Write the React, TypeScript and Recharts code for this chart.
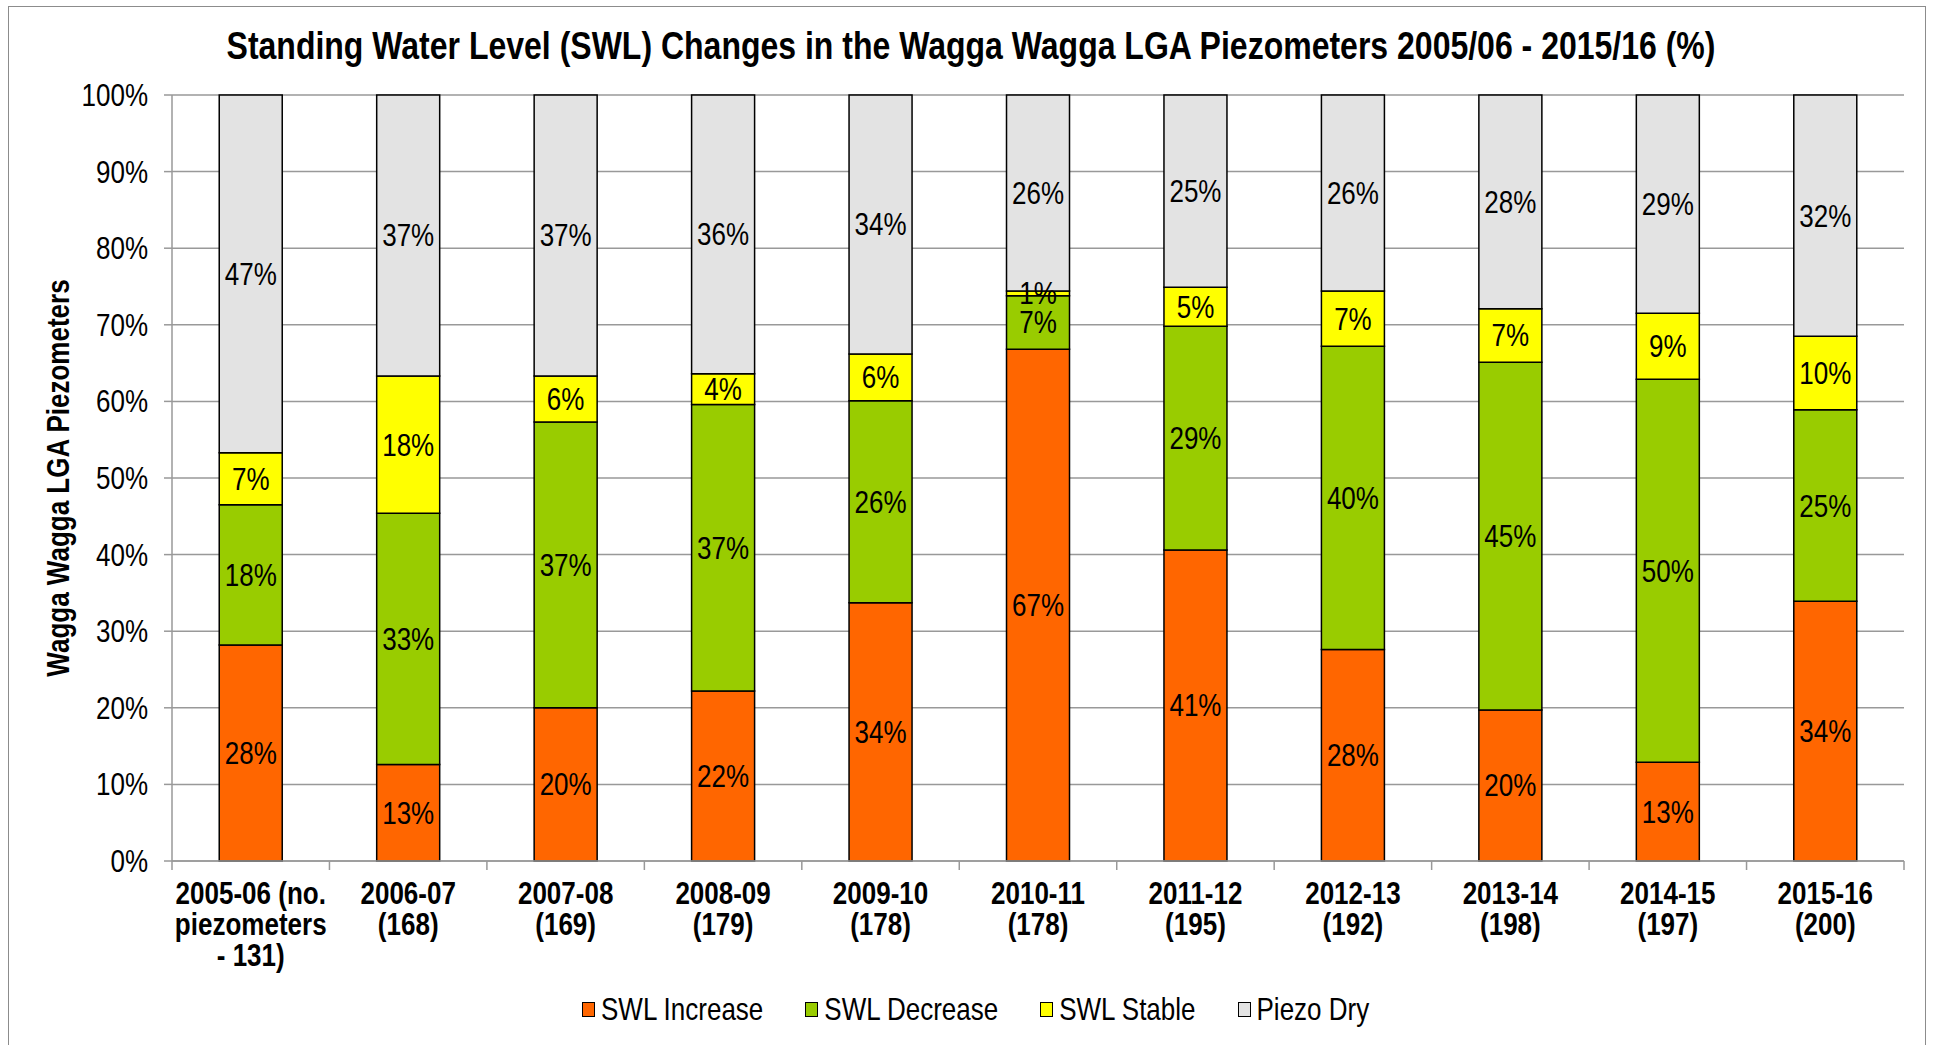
import React from "react";
import {
  BarChart,
  Bar,
  XAxis,
  YAxis,
  CartesianGrid,
  LabelList,
} from "recharts";

const categories = [
  "2005-06 (no.\npiezometers\n- 131)",
  "2006-07\n(168)",
  "2007-08\n(169)",
  "2008-09\n(179)",
  "2009-10\n(178)",
  "2010-11\n(178)",
  "2011-12\n(195)",
  "2012-13\n(192)",
  "2013-14\n(198)",
  "2014-15\n(197)",
  "2015-16\n(200)",
];

const swlIncrease = [28.2, 12.6, 20.0, 22.2, 33.7, 66.8, 40.6, 27.6, 19.7, 12.9, 33.9];
const swlDecrease = [18.3, 32.8, 37.3, 37.4, 26.4, 7.0, 29.2, 39.6, 45.4, 50.0, 25.0];
const swlStable = [6.8, 17.9, 6.0, 4.0, 6.1, 0.6, 5.1, 7.2, 7.0, 8.6, 9.6];
const piezoDry = [46.7, 36.7, 36.7, 36.4, 33.8, 25.6, 25.1, 25.6, 27.9, 28.5, 31.5];

const yTicks = [0, 10, 20, 30, 40, 50, 60, 70, 80, 90, 100];

const series = [
  { key: "increase", name: "SWL Increase", color: "#FF6600" },
  { key: "decrease", name: "SWL Decrease", color: "#99CC00" },
  { key: "stable", name: "SWL Stable", color: "#FFFF00" },
  { key: "dry", name: "Piezo Dry", color: "#E3E3E3" },
];

const data = categories.map((name, i) => ({
  name,
  increase: swlIncrease[i],
  decrease: swlDecrease[i],
  stable: swlStable[i],
  dry: piezoDry[i],
}));

// the reference text is tall and narrow, so stretch Arial-like glyphs vertically
const FONT = "'Liberation Sans', Arial, sans-serif";
const STRETCH = 1.22;
const W = 1935;
const H = 1045;
const MARGIN = { top: 95, right: 31, bottom: 84, left: 52 };
const Y_AXIS_W = 120;
const X_AXIS_H = 100;
const HALF_BAND = (W - MARGIN.left - MARGIN.right - Y_AXIS_W) / categories.length / 2;

const TallText = ({ x, y, anchor = "middle", bold = false, size = 26, children }: any) => (
  <text
    x={0}
    y={0}
    transform={`translate(${x},${y}) scale(1,${STRETCH})`}
    textAnchor={anchor}
    dominantBaseline="central"
    fontFamily={FONT}
    fontSize={size}
    fontWeight={bold ? "bold" : "normal"}
    fill="#000"
  >
    {children}
  </text>
);

const XTick = (props: any) => {
  const { x, y, payload, index } = props;
  const lines = String(payload.value).split("\n");
  return (
    <g>
      <line x1={x - HALF_BAND} y1={y} x2={x - HALF_BAND} y2={y + 9} stroke="#999" strokeWidth={1.5} />
      {index === categories.length - 1 && (
        <line x1={x + HALF_BAND} y1={y} x2={x + HALF_BAND} y2={y + 9} stroke="#999" strokeWidth={1.5} />
      )}
      {lines.map((l, i) => (
        <TallText key={i} x={x} y={y + 32 + i * 31} bold>
          {l}
        </TallText>
      ))}
    </g>
  );
};

const YTick = (props: any) => {
  const { x, y, payload } = props;
  return (
    <TallText x={x} y={y} anchor="end">
      {`${payload.value}%`}
    </TallText>
  );
};

const SegmentLabel = (props: any) => {
  const { x, y, width, height, value } = props;
  return (
    <TallText x={Number(x) + Number(width) / 2} y={Number(y) + Number(height) / 2}>
      {`${Math.round(Number(value))}%`}
    </TallText>
  );
};

export default function App() {
  return (
    <div style={{ position: "absolute", left: 0, top: 0, width: W, height: H, background: "#fff", overflow: "hidden" }}>
      <div
        style={{
          position: "absolute",
          left: 8,
          top: 6,
          width: 1916,
          height: 1042,
          border: "1.5px solid #8c8c8c",
        }}
      />
      <div
        style={{
          position: "absolute",
          left: 0,
          top: 26,
          width: 1942,
          textAlign: "center",
          fontFamily: FONT,
          fontWeight: "bold",
          fontSize: 32,
          lineHeight: "40px",
          color: "#000",
          transform: `scaleY(${STRETCH})`,
        }}
      >
        Standing Water Level (SWL) Changes in the Wagga Wagga LGA Piezometers 2005/06 - 2015/16 (%)
      </div>
      <div style={{ position: "absolute", left: 0, top: 0 }}>
        <BarChart width={W} height={H} data={data} margin={MARGIN} barCategoryGap="30%">
          <CartesianGrid vertical={false} stroke="#999" strokeWidth={1.5} />
          <XAxis
            dataKey="name"
            height={X_AXIS_H}
            interval={0}
            tickLine={false}
            tickSize={0}
            tickMargin={0}
            axisLine={{ stroke: "#999", strokeWidth: 1.5 }}
            tick={<XTick />}
          />
          <YAxis
            width={Y_AXIS_W}
            domain={[0, 100]}
            ticks={yTicks}
            interval={0}
            tickSize={8}
            tickMargin={16}
            axisLine={{ stroke: "#999", strokeWidth: 1.5 }}
            tickLine={{ stroke: "#999", strokeWidth: 1.5 }}
            tick={<YTick />}
            label={{
              content: () => (
                <text
                  x={0}
                  y={0}
                  transform={`translate(58,478) rotate(-90) scale(1,${STRETCH})`}
                  textAnchor="middle"
                  dominantBaseline="central"
                  fontFamily={FONT}
                  fontSize={26}
                  fontWeight="bold"
                  fill="#000"
                >
                  Wagga Wagga LGA Piezometers
                </text>
              ),
            }}
          />
          {series.map((s) => (
            <Bar
              key={s.key}
              dataKey={s.key}
              name={s.name}
              stackId="a"
              fill={s.color}
              stroke="#000"
              strokeWidth={1.5}
              isAnimationActive={false}
            >
              <LabelList dataKey={s.key} content={<SegmentLabel />} />
            </Bar>
          ))}
        </BarChart>
      </div>
      <div
        style={{
          position: "absolute",
          left: 582,
          top: 990,
          display: "flex",
          alignItems: "center",
          fontFamily: FONT,
          fontSize: 26,
          color: "#000",
          lineHeight: "38px",
        }}
      >
        {series.map((s) => (
          <div key={s.key} style={{ display: "flex", alignItems: "center", marginRight: 42 }}>
            <span
              style={{
                display: "inline-block",
                width: 11,
                height: 13,
                background: s.color,
                border: "1.5px solid #000",
                marginRight: 6,
              }}
            />
            <span style={{ display: "inline-block", transform: `scaleY(${STRETCH})` }}>{s.name}</span>
          </div>
        ))}
      </div>
    </div>
  );
}
